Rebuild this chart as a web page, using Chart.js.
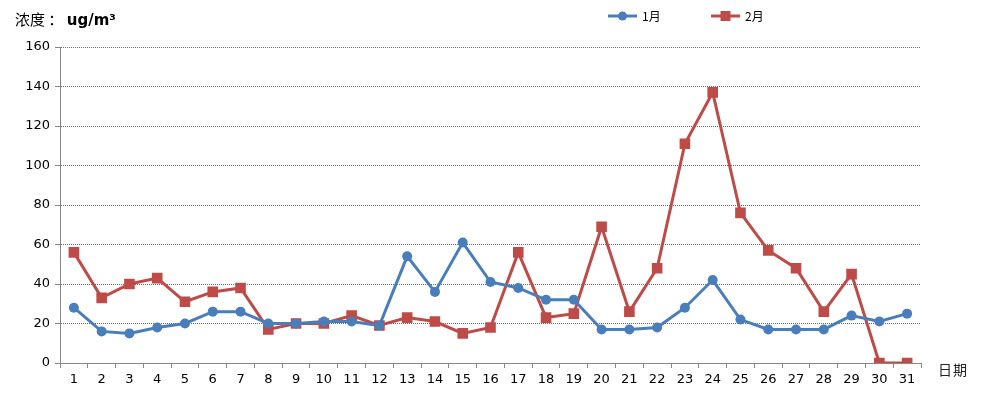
<!DOCTYPE html>
<html>
<head>
<meta charset="utf-8">
<script src="https://cdn.jsdelivr.net/npm/chart.js@4/dist/chart.umd.min.js"></script>
<style>
html,body{margin:0;padding:0;background:#fff;}
#wrap{position:relative;width:992px;height:395px;}
#c{position:absolute;left:0;top:0;}
.txt{position:absolute;font-family:"DejaVu Sans","Noto Sans CJK SC",sans-serif;color:#000;white-space:nowrap;}
#ttl{left:15px;top:8px;font-size:15px;font-family:"Noto Sans CJK SC","DejaVu Sans",sans-serif;}
#ttl b{font-family:"DejaVu Sans",sans-serif;font-weight:bold;}
#xt{left:938px;top:359px;font-size:14px;color:#222;font-family:"Noto Sans CJK SC",sans-serif;letter-spacing:1px;}
.leg{position:absolute;top:7px;font-size:12px;font-family:"Noto Sans CJK SC","DejaVu Sans",sans-serif;display:flex;align-items:center;}
.leg canvas{margin-right:3px;}
</style>
</head>
<body>
<div id="wrap">
<canvas id="c" width="992" height="395"></canvas>
<div id="ttl" class="txt">浓度 ：&nbsp;<b>ug/m³</b></div>
<div id="xt" class="txt">日期</div>
<div id="leg1" class="leg" style="left:607px;"><canvas id="li1" width="32" height="14"></canvas><span>1月</span></div>
<div id="leg2" class="leg" style="left:710px;"><canvas id="li2" width="32" height="14"></canvas><span>2月</span></div>
</div>
<script>
const days = ['1','2','3','4','5','6','7','8','9','10','11','12','13','14','15','16','17','18','19','20','21','22','23','24','25','26','27','28','29','30','31'];
const jan = [28,16,15,18,20,26,26,20,20,21,21,19,54,36,61,41,38,32,32,17,17,18,28,42,22,17,17,17,24,21,25];
const feb = [56,33,40,43,31,36,38,17,20,20,24,19,23,21,15,18,56,23,25,69,26,48,111,137,76,57,48,26,45,0,0];
const seriesNames = ['1月','2月'];
const yTicks = [0,20,40,60,80,100,120,140,160];

const BLUE = '#4a7ebb';
const RED = '#be4b48';

function legendIcon(id, color, style){
  const cv = document.getElementById(id);
  const ctx = cv.getContext('2d');
  ctx.strokeStyle = color; ctx.lineWidth = 3;
  ctx.beginPath(); ctx.moveTo(1,7); ctx.lineTo(30,7); ctx.stroke();
  ctx.fillStyle = color;
  if(style==='circle'){ ctx.beginPath(); ctx.arc(15.5,7,4.5,0,Math.PI*2); ctx.fill(); }
  else { ctx.fillRect(10.5,2,10,10); }
}
legendIcon('li1', BLUE, 'circle');
legendIcon('li2', RED, 'rect');

const navyGrid = '#4f6d9c';
const axisGray = '#878787';

new Chart(document.getElementById('c'), {
  type: 'line',
  data: {
    labels: days,
    datasets: [
      {label: seriesNames[0], data: jan, borderColor: BLUE, backgroundColor: BLUE, borderWidth: 3,
       pointStyle: 'circle', pointRadius: 5, pointHoverRadius: 5, pointBorderWidth: 0, tension: 0},
      {label: seriesNames[1], data: feb, borderColor: RED, backgroundColor: RED, borderWidth: 3,
       pointStyle: 'rect', pointRadius: 7.5, pointHoverRadius: 7.5, pointBorderWidth: 0, tension: 0}
    ]
  },
  options: {
    responsive: false,
    animation: false,
    devicePixelRatio: 1,
    layout: {padding: {top: 47, left: 0, right: 71, bottom: 0}},
    plugins: {legend: {display: false}, tooltip: {enabled: false}},
    scales: {
      x: {
        offset: true,
        grid: {display: true, drawOnChartArea: false, offset: true, tickLength: 5, tickColor: axisGray, color: axisGray},
        border: {display: true, color: axisGray, width: 1},
        ticks: {color: '#000', font: {family: 'DejaVu Sans', size: 13}, padding: 4, maxRotation: 0, autoSkip: false},
        afterFit: s => { s.height = 32; }
      },
      y: {
        min: 0, max: 160,
        afterBuildTicks: s => { s.ticks = yTicks.map(v => ({value: v})); },
        grid: {
          color: ctx => ctx.tick && ctx.tick.value === 0 ? 'rgba(0,0,0,0)' : navyGrid,
          lineWidth: 1, tickLength: 5, tickColor: axisGray
        },
        border: {display: true, color: axisGray, width: 1, dash: [1, 1]},
        ticks: {color: '#000', font: {family: 'DejaVu Sans', size: 13}, padding: 5},
        afterFit: s => { s.width = 60; }
      }
    }
  }
});
</script>
</body>
</html>
